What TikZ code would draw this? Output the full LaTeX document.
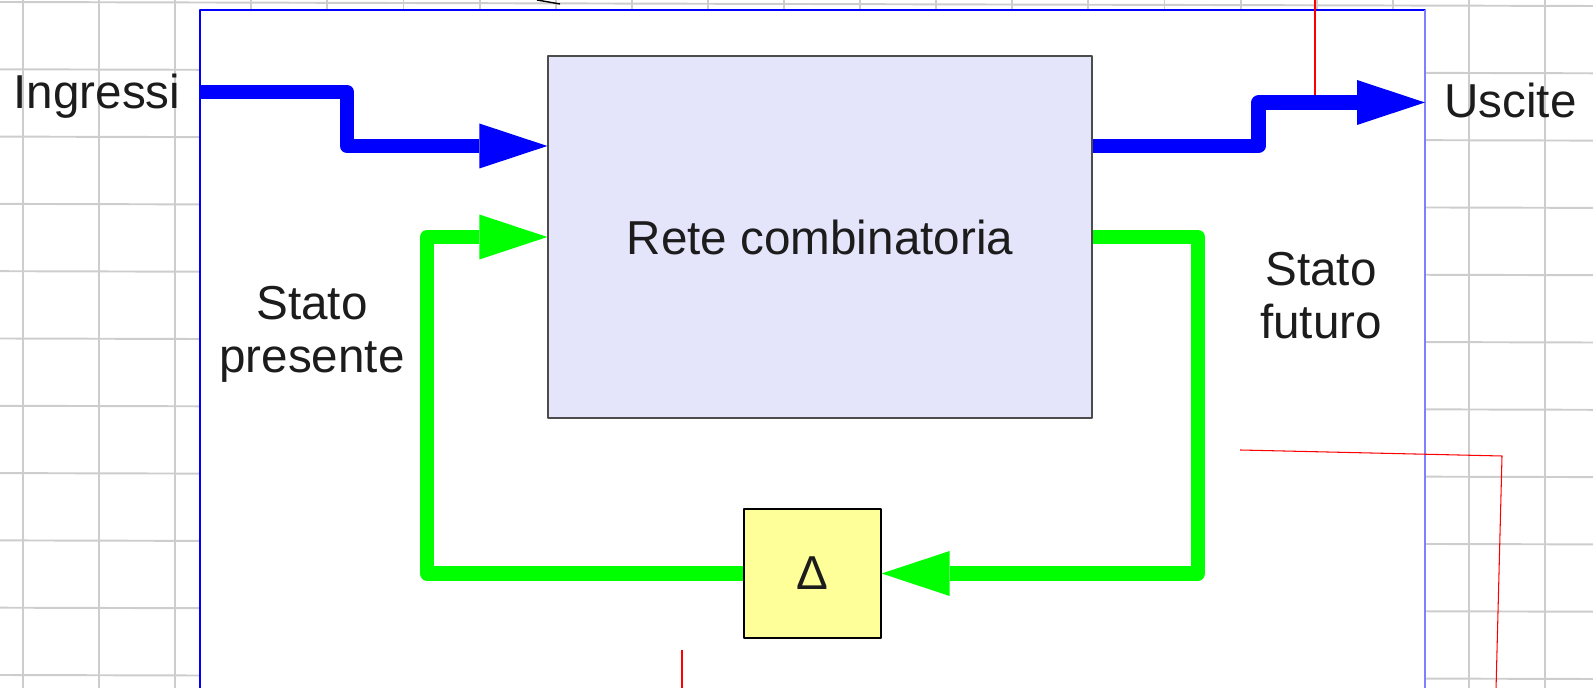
\documentclass[tikz,border=0pt]{standalone}
\usepackage{fontspec}
\setmainfont{Liberation Sans}
\usetikzlibrary{%
  arrows.meta,% Triangle
  calc%
}
\definecolor{carta}{RGB}{205,205,205}
\definecolor{lavanda}{RGB}{228,228,251}
\definecolor{giallino}{RGB}{255,255,153}
\definecolor{verde}{RGB}{0,255,0}
\definecolor{testo}{RGB}{28,28,28}

\begin{document}
\begin{tikzpicture}[
    x=0.02cm,y=-0.02cm,
    >={Triangle[length=1.36cm,width=0.9cm,line width=0pt]},
    line join=round,
    griglia/.style={carta,line width=1.1pt},
    cornice/.style={draw=blue,fill=white,line width=0.8pt},
    rete/.style={rectangle,draw=black!70,fill=lavanda,line width=0.8pt,
        minimum width=10.88cm,minimum height=7.24cm,inner sep=0pt,text=testo},
    ritardo/.style={rectangle,draw=black,fill=giallino,line width=0.8pt,
        minimum width=2.74cm,minimum height=2.58cm,inner sep=0pt,text=testo},
    etichetta/.style={inner sep=0pt,align=center,text=testo},
    bus/.style={->,blue,line width=8pt},
    retro/.style={->,verde,line width=8pt},
    segno/.style={red,line width=0.6pt}
  ]
    \useasboundingbox (0,0) rectangle (1593,688);
    \clip (0,0) rectangle (1593,688);
    \fontsize{27.1pt}{30.2pt}\selectfont

    % carta a quadretti
    \foreach \k in {0,...,20}
        \draw[griglia] ({23+76.1*\k},0) -- ({23+76.1*\k},688);
    \foreach \k in {0,...,10}
        \draw[griglia] (0,{2+67.3*\k}) -- (1593,{6+67.3*\k});
    \draw[black,line width=0.8pt] (537,0) .. controls (549,2) .. (560,4);

    \draw[cornice] (200,10) rectangle (1425,720);
    \draw[blue!50,line width=1.2pt] (1425,10) -- (1425,720);

    \node[rete]    (rete)  at (820,237)   {Rete combinatoria};
    \node[ritardo] (delta) at (812.5,573.5) {Δ};

    \node[etichetta,anchor=base] (ingressi) at (97,108.7)   {Ingressi};
    \node[etichetta,anchor=base] (uscite)   at (1510.5,118) {Uscite};
    \node[etichetta] (presente) at (312,334.6) {Stato\\presente};
    \node[etichetta] (futuro)   at (1321,296)  {Stato\\futuro};

    \coordinate (in)  at (200,92);
    \coordinate (out) at (1425,102.5);

    \draw[segno] (1315,0) -- (1315,95);
    \draw[bus] (in) -- (347,92) |- ($(rete.west)+(0,-91)$);
    \draw[bus] ($(rete.east)+(0,-91)$) -| (1258.5,102.5) -- (out);
    \draw[retro] (rete.east) -| (1198,573.5) -- (delta.east);
    \draw[retro] (delta.west) -| (427,237) -- (rete.west);

    \draw[segno] (1240,450) -- (1502,456) -- (1496,690);
    \draw[segno] (682,650) -- (682,690);
\end{tikzpicture}
\end{document}
